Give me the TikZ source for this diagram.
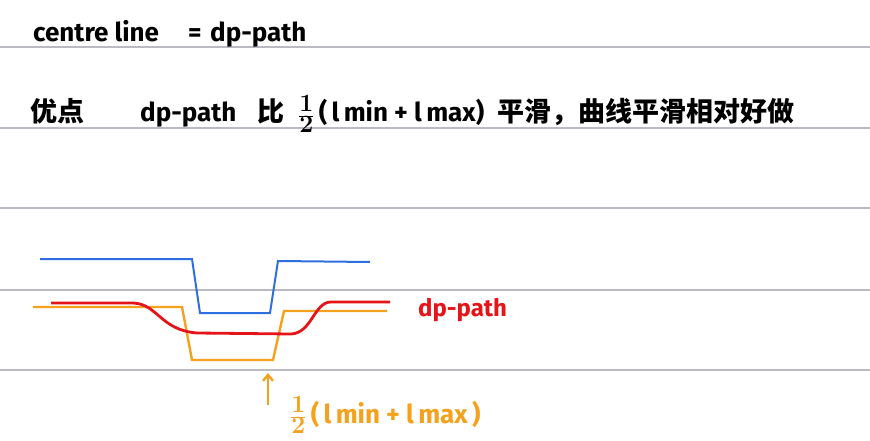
\documentclass[tikz,border=0pt]{standalone}
\usepackage{fontspec}
\setmainfont{Fira Sans}
\newfontfamily\cjk{Noto Sans CJK SC}
\usetikzlibrary{positioning,arrows.meta}
\definecolor{rulegray}{RGB}{185,186,196}
\definecolor{lineblue}{RGB}{45,110,225}
\definecolor{lineorange}{RGB}{244,162,30}
\definecolor{linered}{RGB}{228,20,24}
\tikzset{
  note/.style={font=\fontsize{26}{30}\selectfont\bfseries, inner sep=0pt, anchor=base west},
  cjknote/.style={font=\fontsize{27}{30}\selectfont\cjk\bfseries, inner sep=0pt, anchor=base west},
}
\newcommand{\halfsum}{{\fontsize{36}{40}\selectfont\boldmath$\frac{1}{2}$}\,(\,l\,min + l\,max}

\begin{document}
\begin{tikzpicture}[x=1pt,y=-1pt]
      \useasboundingbox (0,0) rectangle (870,441);
      \coordinate (arrowtail) at (268,405);
      \coordinate (arrowtip) at (268,373);

      % RULED LINES
      \foreach \y in {47,128,208,290,370}
        \draw[rulegray, line width=1.2pt] (0,\y) -- (870,\y);

      % NOTES
      \node[note] (centre) at (33,42) {centre line};
      \node[note] (eq) at (188,42) {=};
      \node[note] (dpone) at (210,42) {dp-path};
      \node[cjknote] (adv) at (30,122) {优点};
      \node[note] (dptwo) at (140,122) {dp-path};
      \node[cjknote] (bi) at (257,122) {比};
      \node[note] (halfone) at (298,122) {\halfsum)};
      \node[cjknote] (smooth) at (497,122) {平滑，曲线平滑相对好做};

      % PATHS
      \draw[lineblue, line width=2pt] (40,259) -- (192,259) -- (200,313) -- (270,313)
        -- (278,261) -- (370,262);
      \draw[lineorange, line width=2.4pt] (33,307) -- (182,307) -- (192,360) -- (273,360)
        -- (284,311) -- (387,311);
      \draw[linered, line width=2.8pt] (51,303) -- (133,303)
        .. controls (158,304) and (160,330) .. (197,333) -- (291,334)
        .. controls (312,333) and (314,302) .. (331,302) -- (390,302);

      % LABELS
      \node[note, font=\fontsize{24}{28}\selectfont\bfseries, text=linered] (dplabel) at (418,316) {dp-path};
      \draw[-{Straight Barb[length=6pt,width=10pt]}, lineorange, line width=2.4pt] (arrowtail) -- (arrowtip);
      \node[note, text=lineorange] (halftwo) at (290,423) {\halfsum\,)};
\end{tikzpicture}
\end{document}
